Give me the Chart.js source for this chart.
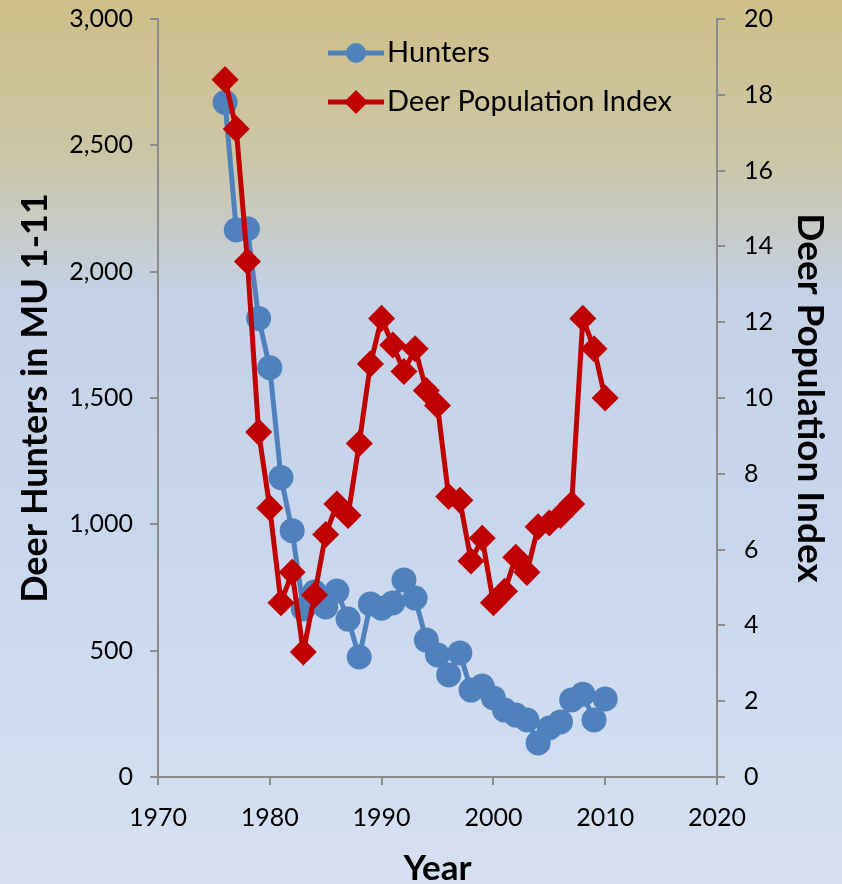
<!DOCTYPE html>
<html><head><meta charset="utf-8">
<script src="https://cdn.jsdelivr.net/npm/chart.js@4/dist/chart.umd.min.js"></script>
<style>html,body{margin:0;padding:0;background:#d5dff0}#wrap{width:842px;height:884px}</style>
</head><body><div id="wrap"><canvas id="c" width="842" height="884"></canvas></div>
<script>
const years = [1976,1977,1978,1979,1980,1981,1982,1983,1984,1985,1986,1987,1988,1989,1990,1991,1992,1993,1994,1995,1996,1997,1998,1999,2000,2001,2002,2003,2004,2005,2006,2007,2008,2009,2010];
const hunters = [2670,2165,2170,1815,1620,1185,975,665,732,673,736,625,475,685,668,689,780,708,542,483,404,491,344,360,313,265,245,226,135,194,218,305,328,226,309];
const deerIndex = [18.4,17.1,13.6,9.1,7.1,4.6,5.4,3.3,4.8,6.4,7.2,6.9,8.8,10.9,12.1,11.4,10.7,11.3,10.2,9.8,7.4,7.3,5.7,6.3,4.6,4.9,5.8,5.4,6.6,6.7,6.9,7.2,12.1,11.3,10.0];
const seriesNames = ["Hunters","Deer Population Index"];
const axisTitles = {x:"Year", y1:"Deer Hunters in MU 1-11", y2:"Deer Population Index"};

const FONT = "Lato, 'Open Sans', sans-serif";
const BLUE = "#4f81bd", RED = "#c00000", AXIS = "#8c8c8c";

const bgPlugin = {
  id:'bg',
  beforeDraw(chart){
    const {ctx,width,height} = chart;
    const g = ctx.createLinearGradient(0,0,0,height);
    g.addColorStop(0,'#cfbf88');
    g.addColorStop(0.18,'#cbc6a6');
    g.addColorStop(0.33,'#c4d1e6');
    g.addColorStop(0.6,'#c9d7ee');
    g.addColorStop(1,'#d6e0f1');
    ctx.save(); ctx.fillStyle=g; ctx.fillRect(0,0,width,height); ctx.restore();
  }
};
const legendPlugin = {
  id:'customLegend',
  afterDraw(chart){
    const ctx = chart.ctx;
    const items = chart.data.datasets;
    const x0 = 328, x1 = 384, ys = [53,102];
    ctx.save();
    items.forEach((ds,i)=>{
      const y = ys[i];
      ctx.strokeStyle = ds.borderColor; ctx.lineWidth = 5; ctx.lineCap='butt';
      ctx.beginPath(); ctx.moveTo(x0,y); ctx.lineTo(x1,y); ctx.stroke();
      ctx.fillStyle = ds.pointBackgroundColor;
      ctx.beginPath();
      if (i===0){ ctx.arc((x0+x1)/2,y,10,0,Math.PI*2); }
      else { const c=(x0+x1)/2, r=12; ctx.moveTo(c,y-r); ctx.lineTo(c+r,y); ctx.lineTo(c,y+r); ctx.lineTo(c-r,y); ctx.closePath(); }
      ctx.fill();
      ctx.fillStyle = '#000'; ctx.font = "29px "+FONT; ctx.textBaseline='middle'; ctx.textAlign='left';
      ctx.fillText(ds.label, x1+3, y);
    });
    ctx.restore();
  }
};

new Chart(document.getElementById('c'), {
  type:'line',
  data:{
    datasets:[
      {label:seriesNames[0], data:years.map((y,i)=>({x:y,y:hunters[i]})), yAxisID:'y1',
       borderColor:BLUE, backgroundColor:BLUE, pointBackgroundColor:BLUE, pointBorderColor:BLUE,
       borderWidth:5, pointRadius:10, pointStyle:'circle', tension:0, order:2},
      {label:seriesNames[1], data:years.map((y,i)=>({x:y,y:deerIndex[i]})), yAxisID:'y2',
       borderColor:RED, backgroundColor:RED, pointBackgroundColor:RED, pointBorderColor:RED,
       borderWidth:5, pointRadius:10, pointStyle:'rectRot', tension:0, order:1}
    ]
  },
  options:{
    responsive:false, animation:false, devicePixelRatio:1,
    layout:{padding:{top:19,left:0,right:0,bottom:0}},
    plugins:{legend:{display:false}, tooltip:{enabled:false}},
    scales:{
      x:{type:'linear', min:1970, max:2020,
        ticks:{stepSize:10, color:'#000', font:{family:FONT,size:25}, padding:18, callback:v=>String(v), maxRotation:0},
        grid:{drawOnChartArea:false, drawTicks:true, tickLength:8, color:AXIS, lineWidth:2},
        border:{color:AXIS, width:2},
        title:{display:true, text:axisTitles.x, color:'#000', font:{family:FONT,size:35,weight:'bold',lineHeight:0.9}, padding:{top:4,bottom:0}},
        afterFit(s){ s.height = 884-777; s.paddingLeft = 0; s.paddingRight = 0; }
      },
      y1:{type:'linear', position:'left', min:0, max:3000,
        ticks:{stepSize:500, color:'#000', font:{family:FONT,size:25}, padding:17},
        grid:{drawOnChartArea:false, drawTicks:true, tickLength:8, color:AXIS, lineWidth:2},
        border:{color:AXIS, width:2},
        title:{display:true, text:axisTitles.y1, color:'#000', font:{family:FONT,size:36,weight:'bold'}, padding:{top:14,bottom:0}},
        afterFit(s){ s.width = 158; s.paddingTop = 0; s.paddingBottom = 0; }
      },
      y2:{type:'linear', position:'right', min:0, max:20,
        ticks:{stepSize:2, color:'#000', font:{family:FONT,size:25}, padding:19},
        grid:{drawOnChartArea:false, drawTicks:true, tickLength:8, color:AXIS, lineWidth:2},
        border:{color:AXIS, width:2},
        title:{display:true, text:axisTitles.y2, color:'#000', font:{family:FONT,size:37,weight:'bold'}, padding:{top:10,bottom:0}},
        afterFit(s){ s.width = 842-717; s.paddingTop = 0; s.paddingBottom = 0; }
      }
    }
  },
  plugins:[bgPlugin, legendPlugin]
});
</script></body></html>
